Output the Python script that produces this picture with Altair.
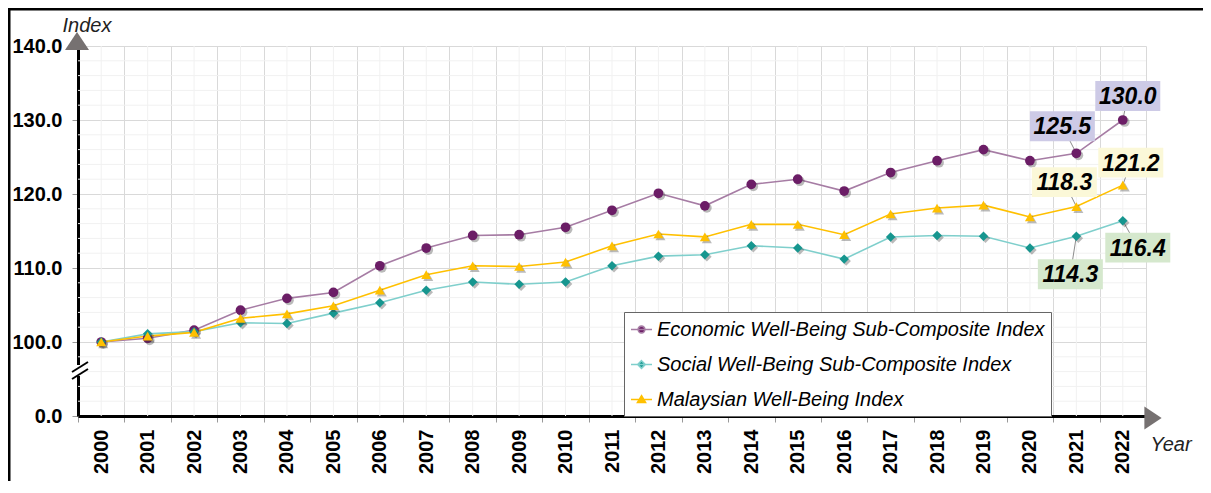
import altair as alt
import pandas as pd

FONT = "Liberation Sans"

years = [str(y) for y in range(2000, 2023)]
series_names = [
    "Economic Well-Being Sub-Composite Index",
    "Social Well-Being Sub-Composite Index",
    "Malaysian Well-Being Index",
]
economic = [100.0, 100.5, 101.6, 104.3, 105.9, 106.7, 110.3, 112.7, 114.4, 114.5, 115.5, 117.8,
            120.1, 118.4, 121.3, 122.0, 120.4, 122.9, 124.5, 126.0, 124.5, 125.5, 130.0]
social = [100.0, 101.1, 101.4, 102.6, 102.5, 103.9, 105.3, 107.0, 108.1, 107.8, 108.1, 110.3,
          111.6, 111.8, 113.0, 112.7, 111.2, 114.2, 114.4, 114.3, 112.7, 114.3, 116.4]
malaysian = [100.0, 100.8, 101.3, 103.2, 103.8, 104.9, 107.0, 109.1, 110.3, 110.2, 110.8, 113.0,
             114.6, 114.2, 115.9, 115.9, 114.5, 117.3, 118.1, 118.5, 116.9, 118.3, 121.2]
y_tick_values = [90, 100, 110, 120, 130, 140]   # 90 is shown as the broken-axis "0.0"

marker_colors = ["#6b1d66", "#16968f", "#ffc000"]
line_colors = ["#a67ca4", "#7fcfcc", "#ffc000"]
box_colors = ["#cdcae6", "#d5e8cd", "#fbf8d8"]
vega_shapes = ["circle", "diamond", "triangle-up"]
marker_sizes = [95, 90, 100]
legend_paths = [
    "M-1,0L1,0M-0.32,0A0.32,0.32 0 1,0 0.32,0A0.32,0.32 0 1,0 -0.32,0Z",
    "M-1,0L1,0M0,-0.36L0.36,0L0,0.36L-0.36,0Z",
    "M-1,0L1,0M0,-0.36L0.38,0.28L-0.38,0.28Z",
]

all_values = [economic, social, malaysian]
rows = []
for name, vals in zip(series_names, all_values):
    for yr, v in zip(years, vals):
        rows.append({"year": yr, "series": name, "value": v})
df = pd.DataFrame(rows)

W, H = 1068, 370

xaxis = alt.Axis(
    title="Year", titleFont=FONT, titleFontSize=20, titleFontStyle="italic", titleFontWeight="normal",
    titleColor="#222222", titleX=1072, titleY=34, titleAlign="left", titleBaseline="alphabetic",
    labelAngle=270, labelFont=FONT, labelFontSize=20, labelFontWeight="bold", labelColor="black",
    labelPadding=7, tickBand="extent", tickSize=6, tickColor="#999999",
    domainColor="black", domainWidth=3, grid=True, gridColor="#d9d9d9", gridWidth=1,
)
yaxis = alt.Axis(
    title="Index", titleFont=FONT, titleFontSize=20, titleFontStyle="italic", titleFontWeight="normal",
    titleColor="#222222", titleAngle=0, titleX=-16, titleY=-15, titleAlign="left",
    titleBaseline="alphabetic",
    values=y_tick_values,
    labelExpr="datum.value == 90 ? '0.0' : format(datum.value, '.1f')",
    labelFont=FONT, labelFontSize=20, labelFontWeight="bold", labelColor="black", labelPadding=10,
    tickSize=6, tickColor="#999999", domainColor="black", domainWidth=3,
    grid=True, gridColor="#d9d9d9", gridWidth=1,
)
xscale = alt.Scale(paddingInner=0, paddingOuter=0)
yscale = alt.Scale(domain=[90, 140], nice=False, zero=False)

X = alt.X("year:O", scale=xscale, axis=xaxis, sort=years)
Y = alt.Y("value:Q", scale=yscale, axis=yaxis)

layers = []

# minor grid lines
minor_v = alt.Chart(pd.DataFrame({"year": years})).mark_rule(color="#f1f1f1", strokeWidth=1).encode(x=X)
minor_h = alt.Chart(pd.DataFrame({"value": [v for v in range(92, 140, 2) if v % 10 != 0]})).mark_rule(
    color="#f1f1f1", strokeWidth=1).encode(y=Y)
layers += [minor_v, minor_h]

base = alt.Chart(df)

# lines
for name, lc in zip(series_names, line_colors):
    layers.append(
        base.transform_filter(alt.datum.series == name)
        .mark_line(color=lc, strokeWidth=1.6)
        .encode(x=X, y=Y)
    )

# value labels (leader lines, boxes, texts)
label_specs = [  # (series index, year index, box dx, box dy)
    (0, 22, 5, -24),
    (0, 21, -14, -27),
    (2, 22, 8, -22.5),
    (2, 21, -12, -24.5),
    (1, 22, 15, 27),
    (1, 21, -6, 38),
]
rect_path = "M-1,-0.46L1,-0.46L1,0.46L-1,0.46Z"
label_layers_boxes = []
for si, yi, dx, dy in label_specs:
    ldf = pd.DataFrame({"year": [years[yi]], "value": [all_values[si][yi]]})
    lc = alt.Chart(ldf)
    layers.append(
        lc.mark_rule(color="#8c8c8c", strokeWidth=1, x2Offset=dx, y2Offset=dy).encode(
            x=X, y=Y, x2=alt.X2("year:O"), y2=alt.Y2("value:Q"))
    )
    label_layers_boxes.append(
        lc.mark_point(shape=rect_path, size=4225, filled=True, fill=box_colors[si], opacity=1,
                      strokeWidth=0, xOffset=dx, yOffset=dy).encode(x=X, y=Y)
    )
    label_layers_boxes.append(
        lc.mark_text(font=FONT, fontSize=23, fontWeight="bold", fontStyle="italic", color="black",
                     dx=dx, dy=dy + 1, align="center", baseline="middle").encode(
            x=X, y=Y, text=alt.Text("value:Q", format=".1f"))
    )

# shadows + markers
for name, shp, mc, ms in zip(series_names, vega_shapes, marker_colors, marker_sizes):
    sub = base.transform_filter(alt.datum.series == name)
    layers.append(
        sub.mark_point(shape=shp, size=ms, filled=True, color="#3a3a3a", opacity=0.35,
                       xOffset=2, yOffset=2).encode(x=X, y=Y)
    )
    layers.append(
        sub.mark_point(shape=shp, size=ms, filled=True, color=mc, opacity=1).encode(x=X, y=Y)
    )

layers += label_layers_boxes

# legend-only layer (no marks drawn)
legend = alt.Legend(
    orient="none", legendX=546, legendY=266, title=None, direction="vertical",
    fillColor="white", strokeColor="#666666", padding=6,
    labelFont=FONT, labelFontSize=20, labelFontStyle="italic", labelColor="black", labelLimit=600,
    labelOffset=4, symbolSize=441, symbolStrokeWidth=1.6, rowPadding=13,
)
layers.append(
    base.transform_filter("false").mark_point(filled=False, opacity=1).encode(
        x=X, y=Y,
        fill=alt.Fill("series:N", scale=alt.Scale(domain=series_names, range=marker_colors),
                      legend=legend, sort=series_names),
        stroke=alt.Stroke("series:N", scale=alt.Scale(domain=series_names, range=line_colors),
                          legend=legend, sort=series_names),
        shape=alt.Shape("series:N", scale=alt.Scale(domain=series_names, range=legend_paths),
                        legend=legend, sort=series_names),
    )
)

# decorations: axis arrows, axis break, outer frame
deco = alt.Chart(pd.DataFrame({"d": [0]}))
layers.append(
    deco.mark_point(shape="M0,-0.75L1,0.75L-1,0.75Z", size=576, filled=True, color="#767171", opacity=1)
    .encode(x=alt.value(-1), y=alt.value(-5))
)
layers.append(
    deco.mark_point(shape="M0.75,0L-0.75,1L-0.75,-1Z", size=529, filled=True, color="#767171", opacity=1)
    .encode(x=alt.value(1075), y=alt.value(372))
)
layers.append(
    deco.mark_rule(color="white", strokeWidth=5).encode(
        x=alt.value(0), x2=alt.value(0), y=alt.value(319), y2=alt.value(330))
)
layers.append(
    deco.mark_rule(color="black", strokeWidth=2).encode(
        x=alt.value(-6), x2=alt.value(10), y=alt.value(326), y2=alt.value(316))
)
layers.append(
    deco.mark_rule(color="black", strokeWidth=2).encode(
        x=alt.value(-6), x2=alt.value(10), y=alt.value(333), y2=alt.value(323))
)
layers.append(
    deco.mark_rect(fill="transparent", stroke="black", strokeWidth=3).encode(
        x=alt.value(-69), y=alt.value(-37), x2=alt.value(1400), y2=alt.value(1000))
)

chart = alt.layer(*layers).properties(
    width=W, height=H, autosize="none",
    padding={"left": 70, "top": 38, "right": 57, "bottom": 65},
    background="white",
).configure_view(stroke=None)

chart.save("out.html", embed_options={"renderer": "svg", "actions": False})
